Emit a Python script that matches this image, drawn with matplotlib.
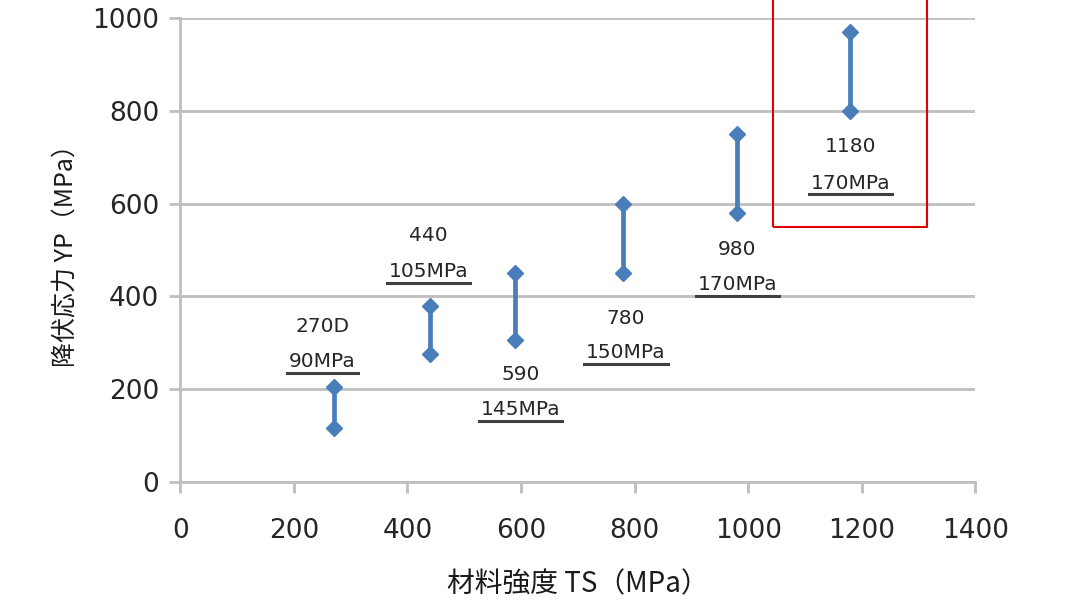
import matplotlib
matplotlib.use('Agg')
import matplotlib.pyplot as plt
from matplotlib.patches import Rectangle
from matplotlib.lines import Line2D

plt.rcParams['font.family'] = ['DejaVu Sans', 'Noto Sans CJK JP']

ts = [270, 440, 590, 780, 980, 1180]
yp_low = [115, 275, 305, 450, 580, 800]
yp_high = [205, 380, 450, 600, 750, 970]
grades = ['270D', '440', '590', '780', '980', '1180']
spreads = ['90MPa', '105MPa', '145MPa', '150MPa', '170MPa', '170MPa']
# label anchor positions (data coords) for grade / spread lines
label_x = [250, 437, 599, 785, 981, 1180]
label_y = [334, 530, 231, 353, 500, 722]
spread_y = [259, 453, 155, 278, 425, 644]

blue = '#4a7ebb'
grid = '#bfbfbf'

fig = plt.figure(figsize=(10.66, 6), dpi=100)
ax = fig.add_axes([0.169, 0.197, 0.746, 0.773])

for x, lo, hi in zip(ts, yp_low, yp_high):
    ax.plot([x, x], [lo, hi], color=blue, lw=3.4, marker='D', markersize=8.5,
            zorder=3, solid_capstyle='butt')

spread_texts = []
for lx, ly, sy, g, s in zip(label_x, label_y, spread_y, grades, spreads):
    ax.text(lx, ly, g, ha='center', va='center', fontsize=14.5, color='#262626')
    spread_texts.append(ax.text(lx, sy, s, ha='center', va='center',
                                fontsize=14.5, color='#262626'))

ax.set_xlim(0, 1400)
ax.set_ylim(0, 1000)
ax.set_xticks(range(0, 1401, 200))
ax.set_yticks(range(0, 1001, 200))
ax.grid(axis='y', color=grid, lw=2)
ax.set_axisbelow(True)
for side in ['top', 'right']:
    ax.spines[side].set_visible(False)
for side in ['left', 'bottom']:
    ax.spines[side].set_color(grid)
    ax.spines[side].set_linewidth(2)
ax.tick_params(axis='both', color=grid, width=2, length=8, labelsize=19,
               labelcolor='#262626')
ax.tick_params(axis='x', pad=18)
ax.tick_params(axis='y', pad=7)

ax.set_xlabel('材料強度 TS（MPa）', fontsize=20, color='#1a1a1a', labelpad=18,
              family=['Noto Sans CJK JP', 'DejaVu Sans'])
ax.set_ylabel('降伏応力 YP（MPa）', fontsize=18, color='#1a1a1a', labelpad=10,
              family=['Noto Sans CJK JP', 'DejaVu Sans'])

# red highlight box around the 1180 grade
ax.add_patch(Rectangle((1044, 550), 271, 500, fill=False, edgecolor='#e00000',
                       lw=1.5, clip_on=False, zorder=4))

# underline the spread labels
fig.canvas.draw()
renderer = fig.canvas.get_renderer()
inv = fig.transFigure.inverted()
for t in spread_texts:
    bb = t.get_window_extent(renderer)
    (x0, y0), (x1, _) = inv.transform([(bb.x0 - 2, bb.y0), (bb.x1 + 2, bb.y1)])
    y0 -= 0.003
    fig.add_artist(Line2D([x0, x1], [y0, y0], color='#404040', lw=2.2,
                          transform=fig.transFigure))

fig.savefig('out.png', dpi=100)
plt.close()
